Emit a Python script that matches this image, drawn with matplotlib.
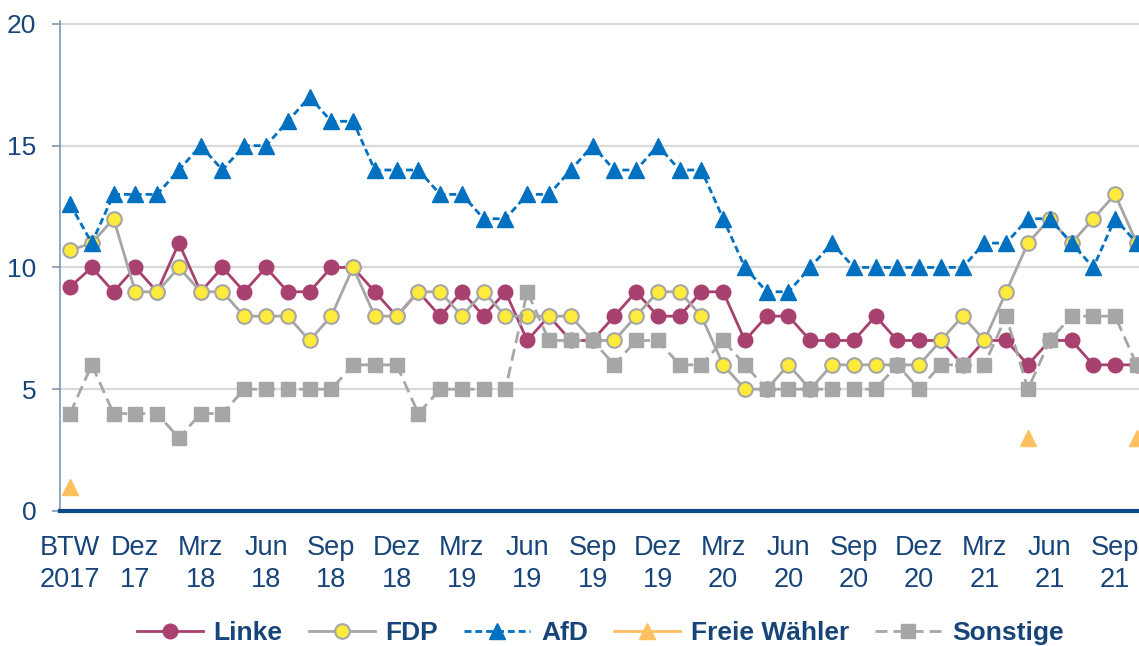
import numpy as np
import matplotlib
matplotlib.use('Agg')
import matplotlib.pyplot as plt

plt.rcParams['font.family'] = ['Liberation Sans', 'DejaVu Sans']

# survey values (percent), BTW 2017 and then monthly polls up to Okt 21
linke = [9.2, 10, 9, 10, 9, 11, 9, 10, 9, 10, 9, 9, 10, 10, 9, 8, 9, 8, 9, 8,
         9, 7, 8, 7, 7, 8, 9, 8, 8, 9, 9, 7, 8, 8, 7, 7, 7, 8, 7, 7,
         7, 6, 7, 7, 6, 7, 7, 6, 6, 6]
fdp = [10.7, 11, 12, 9, 9, 10, 9, 9, 8, 8, 8, 7, 8, 10, 8, 8, 9, 9, 8, 9,
       8, 8, 8, 8, 7, 7, 8, 9, 9, 8, 6, 5, 5, 6, 5, 6, 6, 6, 6, 6,
       7, 8, 7, 9, 11, 12, 11, 12, 13, 11]
afd = [12.6, 11, 13, 13, 13, 14, 15, 14, 15, 15, 16, 17, 16, 16, 14, 14, 14, 13, 13, 12,
       12, 13, 13, 14, 15, 14, 14, 15, 14, 14, 12, 10, 9, 9, 10, 11, 10, 10, 10, 10,
       10, 10, 11, 11, 12, 12, 11, 10, 12, 11]
fw = [1.0] + [np.nan] * 43 + [3] + [np.nan] * 4 + [3]
sonstige = [4, 6, 4, 4, 4, 3, 4, 4, 5, 5, 5, 5, 5, 6, 6, 6, 4, 5, 5, 5,
            5, 9, 7, 7, 7, 6, 7, 7, 6, 6, 7, 6, 5, 5, 5, 5, 5, 5, 6, 5,
            6, 6, 6, 8, 5, 7, 8, 8, 8, 6]

tick_labels = ['BTW\n2017', 'Dez\n17', 'Mrz\n18', 'Jun\n18', 'Sep\n18', 'Dez\n18',
               'Mrz\n19', 'Jun\n19', 'Sep\n19', 'Dez\n19', 'Mrz\n20', 'Jun\n20',
               'Sep\n20', 'Dez\n20', 'Mrz\n21', 'Jun\n21', 'Sep\n21']

navy = '#17457A'
grey = '#A6A6A6'
x = np.arange(len(afd))

fig = plt.figure(figsize=(11.39, 6.46), dpi=100)
ax = fig.add_axes([0.0527, 0.209, 0.9473, 0.7578])

ax.plot(x, linke, color='#A8416F', lw=2.0, marker='o', ms=10.5,
        mec='#A8416F', label='Linke', zorder=3)
ax.plot(x, fdp, color=grey, lw=2.0, marker='o', ms=10.5, mfc='#FFEB3B',
        mec=grey, mew=1.5, label='FDP', zorder=4)
ax.plot(x, afd, color='#0070C0', lw=2.0, ls=(0, (2.5, 1.4)), marker='^', ms=11,
        label='AfD', zorder=5)
ax.plot(x, fw, color='#FFC060', lw=2.0, marker='^', ms=11,
        label='Freie Wähler', zorder=5)
ax.plot(x, sonstige, color=grey, lw=2.0, ls=(0, (4.3, 2.2)), marker='s', ms=10.5,
        label='Sonstige', zorder=6)

ax.set_xlim(-0.46, 49.1)
ax.set_ylim(0, 20.1)
ax.set_yticks([0, 5, 10, 15, 20])
ax.set_xticks(np.arange(0, 49, 3))
ax.set_xticklabels(tick_labels)

ax.yaxis.grid(True, color='#D9D9D9', lw=1.6)
ax.set_axisbelow(True)
for s in ['top', 'right']:
    ax.spines[s].set_visible(False)
ax.spines['left'].set_color('#7F97B2')
ax.spines['left'].set_linewidth(1.2)
ax.spines['bottom'].set_color('#0B4A8A')
ax.spines['bottom'].set_linewidth(3)
ax.spines['bottom'].set_zorder(7)

ax.tick_params(axis='y', labelsize=19, colors=navy, length=6, width=1.2,
               color='#7F97B2', pad=11)
ax.tick_params(axis='x', labelsize=19.5, colors=navy, length=0, pad=17)
for t in ax.get_xticklabels():
    t.set_linespacing(1.3)

leg = fig.legend(loc='center', bbox_to_anchor=(0.527, 0.02), ncol=5,
                 frameon=False, handlelength=2.5, handletextpad=0.4,
                 columnspacing=1.0, prop={'size': 19, 'weight': 'bold'})
for t in leg.get_texts():
    t.set_color(navy)

fig.savefig('out.png', dpi=100)
